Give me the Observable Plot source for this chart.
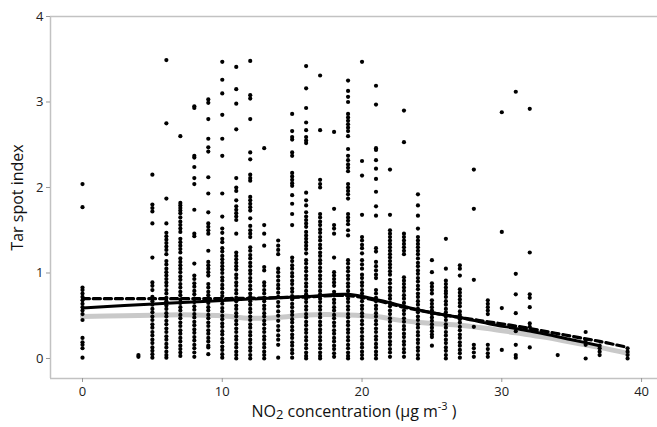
<!DOCTYPE html>
<html>
<head>
<meta charset="utf-8">
<script src="https://cdn.jsdelivr.net/npm/d3@7"></script>
<script src="https://cdn.jsdelivr.net/npm/@observablehq/plot@0.6"></script>
<style>
  html, body { margin: 0; padding: 0; background: white; }
</style>
</head>
<body>
<div id="chart"></div>
<script>
// NO2 concentration columns (x) and tar spot index values (y)
const c0 = [2.04,1.77,0.83,0.80,0.76,0.72,0.68,0.64,0.60,0.56,0.52,0.45,0.24,0.19,0.16,0.12,0.01];
const c4 = [0.04,0.02];
const c5 = [2.15,1.80,1.76,1.72,1.58,1.18,0.89,0.85,0.80,0.72,0.67,0.63,0.58,0.54,0.49,0.45,0.40,0.36,0.31,0.27,0.22,0.18,0.13,0.09,0.05,0.01];
const c6 = [3.49,2.75,1.87,1.58,1.47,1.43,1.39,1.35,1.31,1.27,1.22,1.14,1.10,1.05,1.01,0.97,0.93,0.89,0.85,0.80,0.76,0.71,0.67,0.62,0.58,0.53,0.49,0.44,0.40,0.35,0.31,0.26,0.22,0.17,0.13,0.08,0.04,0.01];
const c7 = [2.60,1.82,1.79,1.76,1.73,1.70,1.65,1.60,1.56,1.52,1.48,1.40,1.36,1.32,1.28,1.24,1.17,1.13,1.09,1.05,1.01,0.96,0.92,0.87,0.83,0.78,0.74,0.69,0.65,0.60,0.56,0.51,0.47,0.42,0.38,0.33,0.29,0.24,0.20,0.15,0.11,0.07,0.03];
const c8 = [2.95,2.93,2.37,2.35,2.24,2.11,2.04,1.74,1.46,1.43,1.11,0.97,0.93,0.88,0.84,0.79,0.75,0.70,0.66,0.61,0.57,0.52,0.48,0.43,0.39,0.34,0.30,0.25,0.21,0.16,0.12,0.07,0.02];
const c9 = [3.03,2.99,2.80,2.57,2.47,2.42,2.12,1.93,1.71,1.58,1.54,1.50,1.46,1.26,1.13,1.09,1.05,1.01,0.97,0.87,0.83,0.78,0.74,0.69,0.65,0.60,0.56,0.51,0.47,0.42,0.38,0.33,0.29,0.24,0.20,0.15,0.13,0.05];
const c10 = [3.47,3.26,3.10,2.85,2.57,2.37,1.93,1.66,1.52,1.47,1.40,1.36,1.29,1.25,1.20,1.16,1.12,1.08,1.04,1.00,0.95,0.91,0.86,0.82,0.77,0.73,0.68,0.64,0.59,0.55,0.50,0.46,0.41,0.37,0.32,0.28,0.23,0.19,0.14,0.10,0.05,0.01];
const c11 = [3.41,3.15,2.98,2.68,2.11,2.00,1.96,1.85,1.78,1.74,1.70,1.66,1.62,1.46,1.24,1.20,1.16,1.12,1.08,1.04,0.98,0.94,0.89,0.85,0.80,0.76,0.71,0.67,0.62,0.58,0.53,0.49,0.44,0.40,0.35,0.31,0.26,0.22,0.17,0.13,0.08,0.04,0.00];
const c12 = [3.48,3.08,3.04,2.80,2.41,2.33,2.15,2.11,2.08,1.89,1.85,1.81,1.77,1.73,1.64,1.55,1.50,1.46,1.42,1.30,1.26,1.21,1.17,1.12,1.08,1.03,0.99,0.94,0.90,0.85,0.81,0.76,0.72,0.67,0.63,0.58,0.54,0.49,0.45,0.40,0.36,0.31,0.27,0.22,0.18,0.13,0.09,0.04,0.00];
const c13 = [2.46,1.56,1.46,1.32,1.07,1.03,0.89,0.85,0.80,0.76,0.71,0.67,0.62,0.58,0.53,0.49,0.44,0.40,0.35,0.31,0.26,0.22,0.17,0.13,0.08,0.04,0.00];
const c14 = [1.38,1.32,1.27,1.22,1.05,1.01,0.96,0.91,0.86,0.82,0.77,0.72,0.66,0.61,0.55,0.50,0.44,0.38,0.33,0.27,0.22,0.16,0.01];
const c15 = [2.86,2.66,2.59,2.56,2.41,2.37,2.17,2.13,2.09,2.05,2.02,1.91,1.81,1.69,1.56,1.18,1.14,1.09,1.05,1.00,0.96,0.91,0.87,0.82,0.78,0.73,0.69,0.64,0.60,0.55,0.51,0.46,0.42,0.37,0.33,0.28,0.24,0.19,0.15,0.10,0.06,0.01];
const c16 = [3.42,3.16,2.93,2.76,2.67,2.59,2.55,2.52,1.94,1.85,1.79,1.71,1.66,1.62,1.58,1.54,1.48,1.44,1.40,1.36,1.32,1.28,1.23,1.15,1.11,1.06,1.02,0.97,0.93,0.88,0.84,0.79,0.75,0.70,0.66,0.61,0.57,0.52,0.48,0.43,0.39,0.34,0.30,0.25,0.21,0.16,0.12,0.07,0.03,0.00];
const c17 = [3.31,2.67,2.09,2.04,2.00,1.69,1.65,1.60,1.56,1.51,1.47,1.42,1.38,1.33,1.29,1.24,1.20,1.15,1.11,1.06,1.02,0.97,0.93,0.88,0.84,0.79,0.75,0.70,0.66,0.61,0.57,0.52,0.48,0.43,0.39,0.34,0.30,0.25,0.21,0.16,0.12,0.07,0.03,0.00];
const c18 = [2.65,1.75,1.56,1.52,1.46,1.18,1.01,0.97,0.93,0.89,0.85,0.78,0.74,0.69,0.65,0.60,0.56,0.51,0.47,0.42,0.38,0.33,0.29,0.24,0.20,0.15,0.11,0.06,0.02];
const c19 = [3.25,3.13,3.06,3.00,2.86,2.82,2.78,2.74,2.70,2.66,2.60,2.45,2.37,2.32,2.27,2.23,2.19,2.04,2.00,1.96,1.92,1.87,1.69,1.65,1.61,1.57,1.50,1.44,1.15,1.11,1.06,1.02,0.97,0.93,0.88,0.84,0.79,0.75,0.70,0.66,0.61,0.57,0.52,0.48,0.43,0.39,0.34,0.30,0.25,0.21,0.16,0.12,0.07,0.03,0.00];
const c20 = [3.47,2.31,2.14,1.68,1.42,1.38,1.33,1.29,1.23,1.15,1.10,1.05,0.98,0.94,0.89,0.85,0.80,0.76,0.71,0.67,0.62,0.58,0.53,0.49,0.44,0.40,0.35,0.31,0.26,0.22,0.17,0.13,0.08,0.04,0.00];
const c21 = [3.19,2.97,2.46,2.44,2.32,2.22,2.10,1.95,1.78,1.67,1.29,1.25,1.13,1.08,1.03,0.98,0.94,0.80,0.76,0.71,0.67,0.62,0.58,0.53,0.49,0.44,0.40,0.35,0.31,0.26,0.22,0.17,0.13,0.08,0.04,0.00];
const c22 = [2.21,1.68,1.50,1.46,1.42,1.38,1.34,1.30,1.26,1.22,1.18,1.14,1.10,1.06,1.02,0.98,0.92,0.88,0.83,0.79,0.74,0.70,0.65,0.61,0.56,0.52,0.47,0.43,0.38,0.34,0.29,0.25,0.20,0.16,0.11,0.07,0.02];
const c23 = [2.90,2.53,1.46,1.42,1.38,1.34,1.30,1.26,1.22,0.95,0.91,0.87,0.83,0.79,0.74,0.70,0.65,0.61,0.56,0.52,0.47,0.43,0.38,0.34,0.29,0.25,0.20,0.16,0.11,0.07,0.02];
const c24 = [1.92,1.79,1.67,1.52,1.42,1.38,1.34,1.30,1.26,1.22,1.17,1.12,1.08,1.03,0.99,0.94,0.90,0.85,0.81,0.76,0.72,0.67,0.63,0.58,0.54,0.49,0.45,0.40,0.36,0.31,0.27,0.22,0.18,0.13,0.09,0.04,0.00];
const c25 = [1.15,1.01,0.88,0.84,0.80,0.76,0.68,0.64,0.60,0.56,0.52,0.48,0.44,0.40,0.36,0.32,0.28,0.25,0.15];
const c26 = [1.40,1.05,0.91,0.87,0.83,0.79,0.76,0.72,0.67,0.63,0.58,0.54,0.49,0.45,0.40,0.36,0.31,0.27,0.22,0.18,0.13,0.09,0.04,0.00];
const c27 = [1.09,1.05,0.97,0.81,0.77,0.73,0.69,0.65,0.61,0.55,0.51,0.46,0.42,0.37,0.33,0.28,0.24,0.19,0.15,0.10,0.06,0.01];
const c28 = [2.21,1.75,0.92,0.37,0.16,0.12,0.07,0.02];
const c29 = [0.68,0.64,0.60,0.56,0.52,0.16,0.11,0.06,0.02];
const c30 = [2.88,1.48,0.59,0.10];
const c31 = [3.12,0.99,0.75,0.53,0.32,0.16,0.04,0.01];
const c32 = [2.92,1.24,0.75,0.71,0.60,0.41,0.37,0.13];
const c34 = [0.04];
const c36 = [0.31,0.21,0.16,0.00];
const c37 = [0.15,0.12,0.08,0.04];
const c39 = [0.12,0.08,0.04,0.00];

const columns = [[0,c0],[4,c4],[5,c5],[6,c6],[7,c7],[8,c8],[9,c9],[10,c10],[11,c11],[12,c12],[13,c13],[14,c14],[15,c15],[16,c16],[17,c17],[18,c18],[19,c19],[20,c20],[21,c21],[22,c22],[23,c23],[24,c24],[25,c25],[26,c26],[27,c27],[28,c28],[29,c29],[30,c30],[31,c31],[32,c32],[34,c34],[36,c36],[37,c37],[39,c39]];

// fitted curves: [NO2, tar spot index]
const solidFit = [[0,0.59],[3,0.62],[6,0.645],[9,0.67],[12,0.695],[16,0.725],[19,0.75],[21,0.69],[23,0.61],[25,0.535],[27,0.48],[29,0.41],[31,0.35],[33,0.29],[35,0.22],[37,0.15]];
const dashedFit = [[0,0.70],[5,0.70],[9,0.70],[12,0.705],[16,0.72],[19,0.735],[21,0.68],[23,0.60],[25,0.535],[27,0.48],[29,0.43],[31,0.38],[33,0.32],[35,0.26],[37,0.20],[39,0.13]];
const grayFit = [[0,0.49],[3,0.50],[6,0.51],[8,0.51],[10,0.50],[12,0.47],[14,0.48],[16,0.51],[19,0.51],[21,0.49],[23,0.44],[25,0.41],[27,0.39],[29,0.35],[31,0.30],[33,0.25],[35,0.19],[37,0.13],[39,0.06]];

const xTicks = [0,10,20,30,40];
const yTicks = [0,1,2,3,4];
const xDomain = [-2.29, 41.14];
const yDomain = [-0.234, 4];
const xLabel = "NO2 concentration (µg m-3 )";
const yLabel = "Tar spot index";

const points = columns.flatMap(([x, ys]) => ys.map(y => ({x, y})));
const toObj = arr => arr.map(([x, y]) => ({x, y}));

const frameColor = "#c2c2c2";

const chart = Plot.plot({
  width: 657,
  height: 427,
  marginLeft: 50,
  marginRight: 0,
  marginTop: 16,
  marginBottom: 49,
  style: {fontFamily: "'Open Sans', sans-serif", fontSize: "13px", background: "white", color: "#222"},
  x: {domain: xDomain, label: null},
  y: {domain: yDomain, label: null},
  marks: [
    Plot.ruleY([yDomain[1]], {stroke: frameColor, strokeWidth: 1.5}),
    Plot.ruleY([yDomain[0]], {stroke: frameColor, strokeWidth: 1.5}),
    Plot.ruleX([xDomain[0]], {stroke: frameColor, strokeWidth: 1.5}),
    Plot.line(toObj(grayFit), {x: "x", y: "y", stroke: "#c9c9c9", strokeWidth: 5, curve: "catmull-rom"}),
    Plot.dot(points, {x: "x", y: "y", r: 2.1, fill: "black", stroke: "none"}),
    Plot.line(toObj(dashedFit), {x: "x", y: "y", stroke: "black", strokeWidth: 3.2, strokeDasharray: "7,4", curve: "catmull-rom"}),
    Plot.line(toObj(solidFit), {x: "x", y: "y", stroke: "black", strokeWidth: 3, curve: "catmull-rom"}),
    Plot.axisX({ticks: xTicks, tickFormat: d3.format("d"), tickSize: 4, tickPadding: 4, stroke: "#999", fill: "#222", label: null}),
    Plot.axisY({ticks: yTicks, tickFormat: d3.format("d"), tickSize: 4, tickPadding: 3, stroke: "#999", fill: "#222", label: null}),
    Plot.text([xLabel], {frameAnchor: "bottom", dy: 38, fontSize: 16, fill: "#111"}),
    Plot.text([yLabel], {frameAnchor: "left", textAnchor: "middle", dx: -33, rotate: -90, fontSize: 16, fill: "#111"})
  ]
});

document.getElementById("chart").appendChild(chart);

// render the subscript 2 and superscript -3 in the x label
d3.select(chart).selectAll("text").filter(function() { return this.textContent === xLabel; }).each(function() {
  const t = d3.select(this);
  t.text(null);
  t.append("tspan").text("NO");
  t.append("tspan").attr("font-size", 13).attr("dy", 2).text("2");
  t.append("tspan").attr("dy", -2).text(" concentration (µg m");
  t.append("tspan").attr("font-size", 11).attr("dy", -7).text("-3");
  t.append("tspan").attr("dy", 7).text(" )");
});
</script>
</body>
</html>
